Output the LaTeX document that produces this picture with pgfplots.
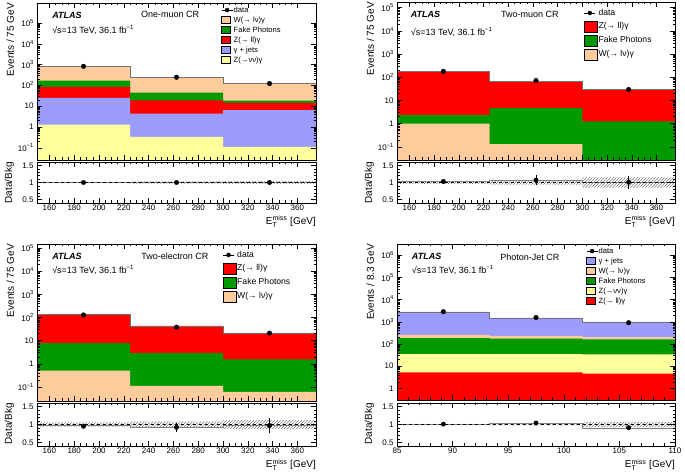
\documentclass[border=0pt]{standalone}
\usepackage{fontspec}
\setmainfont{Liberation Sans}
\usepackage{amsmath}
\usepackage{pgfplots}
\pgfplotsset{compat=1.18}
\usetikzlibrary{patterns}

\definecolor{wpeach}{HTML}{FDCB9C}
\definecolor{fakegreen}{HTML}{009A00}
\definecolor{zllred}{HTML}{FF0000}
\definecolor{gjblue}{HTML}{9C9CFC}
\definecolor{znnyellow}{HTML}{FFFF9C}

\newcommand{\ep}[1]{10\raisebox{0.42em}{\fontsize{5.8}{6}\selectfont #1}}
\newcommand{\lumi}{√s=13 TeV, 36.1 fb\raisebox{0.45em}{\fontsize{6}{7}\selectfont −1}}
\newcommand{\met}{E$^{\text{miss}}_{\text{T}}$ [GeV]}

\tikzset{hatext/.style={font=\fontsize{9}{10}\selectfont, inner sep=0pt}}
\pgfplotsset{/pgf/number format/assume math mode=true}
\pgfplotsset{
  hep/.style={
    scale only axis, width=279pt, axis on top, clip=true,
    tick align=inside, xtick pos=both, ytick pos=both,
    major tick length=5pt, minor tick length=2.5pt,
    every tick/.style={black, line width=0.4pt},
    axis line style={line width=0.5pt},
    ticklabel style={font=\fontsize{8}{9}\selectfont},
    xticklabel style={yshift=1.5pt},
    xmin=150, xmax=375, xtick={160,180,...,360}, minor x tick num=3,
    every axis y label/.style={at={(axis description cs:-0.082,1)}, rotate=90, anchor=south east, inner sep=0pt, font=\fontsize{10}{12}\selectfont},
    every axis x label/.style={at={(axis description cs:1,-0.3)}, anchor=north east, inner sep=0pt, font=\fontsize{10}{12}\selectfont},
  },
  mainp/.style={hep, height=157pt, xticklabel=\empty,
    ylabel={Events / 75 GeV}},
  ratiop/.style={hep, height=41pt, ymin=0.4, ymax=1.6, ytick={0.5,1,1.5}, minor y tick num=4,
    ylabel={Data/Bkg}, xlabel={\met}},
  smallleg/.style={legend cell align=left,
    legend style={anchor=north west, draw=none, fill=none, inner sep=0pt, row sep=1pt,
      font=\fontsize{7.6}{8}\selectfont, nodes={inner sep=0.8pt, text height=5.8pt, text depth=1.6pt}}},
  bigleg/.style={legend cell align=left,
    legend style={anchor=north west, draw=none, fill=none, inner sep=0pt, row sep=2.6pt,
      font=\fontsize{8.6}{9}\selectfont, nodes={inner sep=1pt, text height=6.5pt, text depth=2pt}}},
  sbox/.style={legend image code/.code={\fill[##1] (0pt,-3.5pt) rectangle (9pt,3.5pt);}},
  bbox/.style={legend image code/.code={\fill[##1] (0pt,-5.5pt) rectangle (13pt,5.5pt);}},
  dataleg/.style={legend image code/.code={\draw[black, line width=0.6pt] (0pt,0pt)--(11pt,0pt); \fill[black] (5.5pt,0pt) circle (2pt);}},
  datapt/.style={black, only marks, mark=*, mark size=2.3pt, forget plot},
  ratiopt/.style={black, only marks, mark=*, mark size=2.2pt, forget plot,
    error bars/.cd, y dir=both, y explicit, error bar style={line width=0.6pt}, error mark=none},
  band/.style={pattern=north east lines, pattern color=gray, draw=none, forget plot},
  stk/.style={fill=#1, draw=none, forget plot},
  tot/.style={black!55, line width=0.5pt, const plot, forget plot},
}

\begin{document}
\begin{tikzpicture}
\useasboundingbox (0,0) rectangle (685pt,473pt);

% ---------------- One-muon CR ----------------
\begin{axis}[ymode=log, mainp, at={(37pt,470pt)}, anchor=north west,
  ymin=0.0257, ymax=9.1e5,
  ytick={0.1,1,10,100,1000,10000,100000},
  yticklabels={\ep{−1},1,10,\ep{2},\ep{3},\ep{4},\ep{5}},
  smallleg, legend style={at={(0.66,0.985)}}]
% cumulative stack, top layer first
\addplot[stk=wpeach] coordinates {(150,1e-3) (150,800) (225,800) (225,250) (300,250) (300,125) (375,125) (375,1e-3)} --cycle;
\addplot[stk=fakegreen] coordinates {(150,1e-3) (150,170) (225,170) (225,45) (300,45) (300,18.6) (375,18.6) (375,1e-3)} --cycle;
\addplot[stk=zllred] coordinates {(150,1e-3) (150,85) (225,85) (225,19) (300,19) (300,14.5) (375,14.5) (375,1e-3)} --cycle;
\addplot[stk=gjblue] coordinates {(150,1e-3) (150,25) (225,25) (225,4.4) (300,4.4) (300,6.4) (375,6.4) (375,1e-3)} --cycle;
\addplot[stk=znnyellow] coordinates {(150,1e-3) (150,1.3) (225,1.3) (225,0.33) (300,0.33) (300,0.11) (375,0.11) (375,1e-3)} --cycle;
\addplot[tot] coordinates {(150,800) (225,250) (300,125) (375,125)};
\addplot[datapt] coordinates {(187.5,820) (262.5,245) (337.5,122)};
\addlegendimage{dataleg}\addlegendentry{data}
\addlegendimage{sbox, fill=wpeach}\addlegendentry{W(→ lν)γ}
\addlegendimage{sbox, fill=fakegreen}\addlegendentry{Fake Photons}
\addlegendimage{sbox, fill=zllred}\addlegendentry{Z(→ ll)γ}
\addlegendimage{sbox, fill=gjblue}\addlegendentry{γ + jets}
\addlegendimage{sbox, fill=znnyellow}\addlegendentry{Z(→νν)γ}
\node[hatext, anchor=west] at (rel axis cs:0.054,0.924) {\textbf{\textit{ATLAS}}};
\node[hatext, anchor=west] at (rel axis cs:0.054,0.828) {\lumi};
\node[hatext] at (rel axis cs:0.477,0.93) {One-muon CR};
\end{axis}
\begin{axis}[ratiop, at={(37pt,311pt)}, anchor=north west]
\addplot[band] coordinates {(150,1.015) (225,1.015) (225,1.03) (300,1.03) (300,1.04) (375,1.04) (375,0.96) (300,0.96) (300,0.97) (225,0.97) (225,0.985) (150,0.985)} --cycle;
\addplot[gray, const plot, forget plot] coordinates {(150,1.0) (225,1.0) (300,1.0) (375,1.0)};
\addplot[black, dashed, forget plot] coordinates {(150,1) (375,1)};
\addplot[ratiopt] coordinates {(187.5,1.0) +- (0,0.03) (262.5,1.0) +- (0,0.05) (337.5,1.0) +- (0,0.06)};
\end{axis}

% ---------------- Two-muon CR ----------------
\begin{axis}[ymode=log, mainp, at={(397pt,471pt)}, anchor=north west, width=278pt, height=158pt,
  ymin=0.027, ymax=1.75e5,
  ytick={0.1,1,10,100,1000,10000,100000},
  yticklabels={\ep{−1},1,10,\ep{2},\ep{3},\ep{4},\ep{5}},
  bigleg, legend style={at={(0.672,0.965)}}]
\addplot[stk=zllred] coordinates {(150,1e-3) (150,175) (225,175) (225,68) (300,68) (300,29) (375,29) (375,1e-3)} --cycle;
\addplot[stk=fakegreen] coordinates {(150,1e-3) (150,2.4) (225,2.4) (225,4.6) (300,4.6) (300,1.25) (375,1.25) (375,1e-3)} --cycle;
\addplot[stk=wpeach] coordinates {(150,1e-3) (150,1.0) (225,1.0) (225,0.13) (300,0.13) (300,1e-3) (375,1e-3)} --cycle;
\addplot[tot] coordinates {(150,175) (225,68) (300,29) (375,29)};
\addplot[datapt] coordinates {(187.5,180) (262.5,72) (337.5,29.5)};
\addlegendimage{dataleg}\addlegendentry{data}
\addlegendimage{bbox, fill=zllred}\addlegendentry{Z(→ ll)γ}
\addlegendimage{bbox, fill=fakegreen}\addlegendentry{Fake Photons}
\addlegendimage{bbox, fill=wpeach}\addlegendentry{W(→ lν)γ}
\node[hatext, anchor=west] at (rel axis cs:0.049,0.924) {\textbf{\textit{ATLAS}}};
\node[hatext, anchor=west] at (rel axis cs:0.049,0.81) {\lumi};
\node[hatext] at (rel axis cs:0.478,0.924) {Two-muon CR};
\end{axis}
\begin{axis}[ratiop, at={(397pt,311pt)}, anchor=north west, width=278pt]
\addplot[band] coordinates {(150,1.04) (225,1.04) (225,1.06) (300,1.06) (300,1.15) (375,1.15) (375,0.85) (300,0.85) (300,0.94) (225,0.94) (225,0.96) (150,0.96)} --cycle;
\addplot[gray, const plot, forget plot] coordinates {(150,1.03) (225,1.07) (300,1.01) (375,1.01)};
\addplot[black, dashed, forget plot] coordinates {(150,1) (375,1)};
\addplot[ratiopt] coordinates {(187.5,1.03) +- (0,0.08) (262.5,1.07) +- (0,0.14) (337.5,1.01) +- (0,0.19)};
\end{axis}

% ---------------- Two-electron CR ----------------
\begin{axis}[ymode=log, mainp, at={(37pt,229pt)}, anchor=north west,
  ymin=0.0245, ymax=1.5e5,
  ytick={0.1,1,10,100,1000,10000,100000},
  yticklabels={\ep{−1},1,10,\ep{2},\ep{3},\ep{4},\ep{5}},
  bigleg, legend style={at={(0.665,0.965)}}]
\addplot[stk=zllred] coordinates {(150,1e-3) (150,135) (225,135) (225,43) (300,43) (300,21.5) (375,21.5) (375,1e-3)} --cycle;
\addplot[stk=fakegreen] coordinates {(150,1e-3) (150,7.7) (225,7.7) (225,2.9) (300,2.9) (300,1.55) (375,1.55) (375,1e-3)} --cycle;
\addplot[stk=wpeach] coordinates {(150,1e-3) (150,0.5) (225,0.5) (225,0.11) (300,0.11) (300,0.06) (375,0.06) (375,1e-3)} --cycle;
\addplot[tot] coordinates {(150,135) (225,43) (300,21.5) (375,21.5)};
\addplot[datapt] coordinates {(187.5,128) (262.5,38) (337.5,21)};
\addlegendimage{dataleg}\addlegendentry{data}
\addlegendimage{bbox, fill=zllred}\addlegendentry{Z(→ ll)γ}
\addlegendimage{bbox, fill=fakegreen}\addlegendentry{Fake Photons}
\addlegendimage{bbox, fill=wpeach}\addlegendentry{W(→ lν)γ}
\node[hatext, anchor=west] at (rel axis cs:0.054,0.919) {\textbf{\textit{ATLAS}}};
\node[hatext, anchor=west] at (rel axis cs:0.054,0.834) {\lumi};
\node[hatext] at (rel axis cs:0.494,0.924) {Two-electron CR};
\end{axis}
\begin{axis}[ratiop, at={(37pt,70pt)}, anchor=north west, height=43pt]
\addplot[band] coordinates {(150,1.06) (225,1.06) (225,1.08) (300,1.08) (300,1.12) (375,1.12) (375,0.88) (300,0.88) (300,0.92) (225,0.92) (225,0.94) (150,0.94)} --cycle;
\addplot[gray, const plot, forget plot] coordinates {(150,0.97) (225,0.92) (300,0.98) (375,0.98)};
\addplot[black, dashed, forget plot] coordinates {(150,1) (375,1)};
\addplot[ratiopt] coordinates {(187.5,0.95) +- (0,0.06) (262.5,0.92) +- (0,0.13) (337.5,0.97) +- (0,0.22)};
\end{axis}

% ---------------- Photon-Jet CR ----------------
\begin{axis}[ymode=log, mainp, at={(397pt,229pt)}, anchor=north west, width=278pt, height=156pt,
  xmin=85, xmax=110, xtick={85,90,...,110}, minor x tick num=4,
  ymin=0.3, ymax=3.2e6,
  ytick={1,10,100,1000,10000,100000,1000000},
  yticklabels={1,10,\ep{2},\ep{3},\ep{4},\ep{5},\ep{6}},
  ylabel={Events / 8.3 GeV},
  smallleg, legend style={at={(0.68,0.985)}}]
\addplot[stk=gjblue] coordinates {(85,1e-3) (85,2800) (93.33,2800) (93.33,1500) (101.67,1500) (101.67,1000) (110,1000) (110,1e-3)} --cycle;
\addplot[stk=wpeach] coordinates {(85,1e-3) (85,250) (93.33,250) (93.33,235) (101.67,235) (101.67,205) (110,205) (110,1e-3)} --cycle;
\addplot[stk=fakegreen] coordinates {(85,1e-3) (85,185) (93.33,185) (93.33,175) (101.67,175) (101.67,160) (110,160) (110,1e-3)} --cycle;
\addplot[stk=znnyellow] coordinates {(85,1e-3) (85,35) (93.33,35) (93.33,35) (101.67,35) (101.67,34) (110,34) (110,1e-3)} --cycle;
\addplot[stk=zllred] coordinates {(85,1e-3) (85,5.2) (93.33,5.2) (93.33,5.2) (101.67,5.2) (101.67,4.6) (110,4.6) (110,1e-3)} --cycle;
\addplot[tot] coordinates {(85,2800) (93.33,1500) (101.67,1000) (110,1000)};
\addplot[datapt] coordinates {(89.17,2850) (97.5,1560) (105.83,910)};
\addlegendimage{dataleg}\addlegendentry{data}
\addlegendimage{sbox, fill=gjblue}\addlegendentry{γ + jets}
\addlegendimage{sbox, fill=wpeach}\addlegendentry{W(→ lν)γ}
\addlegendimage{sbox, fill=fakegreen}\addlegendentry{Fake Photons}
\addlegendimage{sbox, fill=znnyellow}\addlegendentry{Z(→νν)γ}
\addlegendimage{sbox, fill=zllred}\addlegendentry{Z(→ ll)γ}
\node[hatext, anchor=west] at (rel axis cs:0.053,0.919) {\textbf{\textit{ATLAS}}};
\node[hatext, anchor=west] at (rel axis cs:0.053,0.834) {\lumi};
\node[hatext] at (rel axis cs:0.478,0.917) {Photon-Jet CR};
\end{axis}
\begin{axis}[ratiop, at={(397pt,70pt)}, anchor=north west, width=278pt, height=43pt,
  xmin=85, xmax=110, xtick={85,90,...,110}, minor x tick num=4]
\addplot[band] coordinates {(85,1.015) (93.33,1.015) (93.33,1.025) (101.67,1.025) (101.67,1.07) (110,1.07) (110,0.93) (101.67,0.93) (101.67,0.975) (93.33,0.975) (93.33,0.985) (85,0.985)} --cycle;
\addplot[gray, const plot, forget plot] coordinates {(85,1.01) (93.33,1.04) (101.67,0.91) (110,0.91)};
\addplot[black, dashed, forget plot] coordinates {(85,1) (110,1)};
\addplot[ratiopt] coordinates {(89.17,1.01) +- (0,0.02) (97.5,1.04) +- (0,0.03) (105.83,0.91) +- (0,0.04)};
\end{axis}
\end{tikzpicture}
\end{document}
